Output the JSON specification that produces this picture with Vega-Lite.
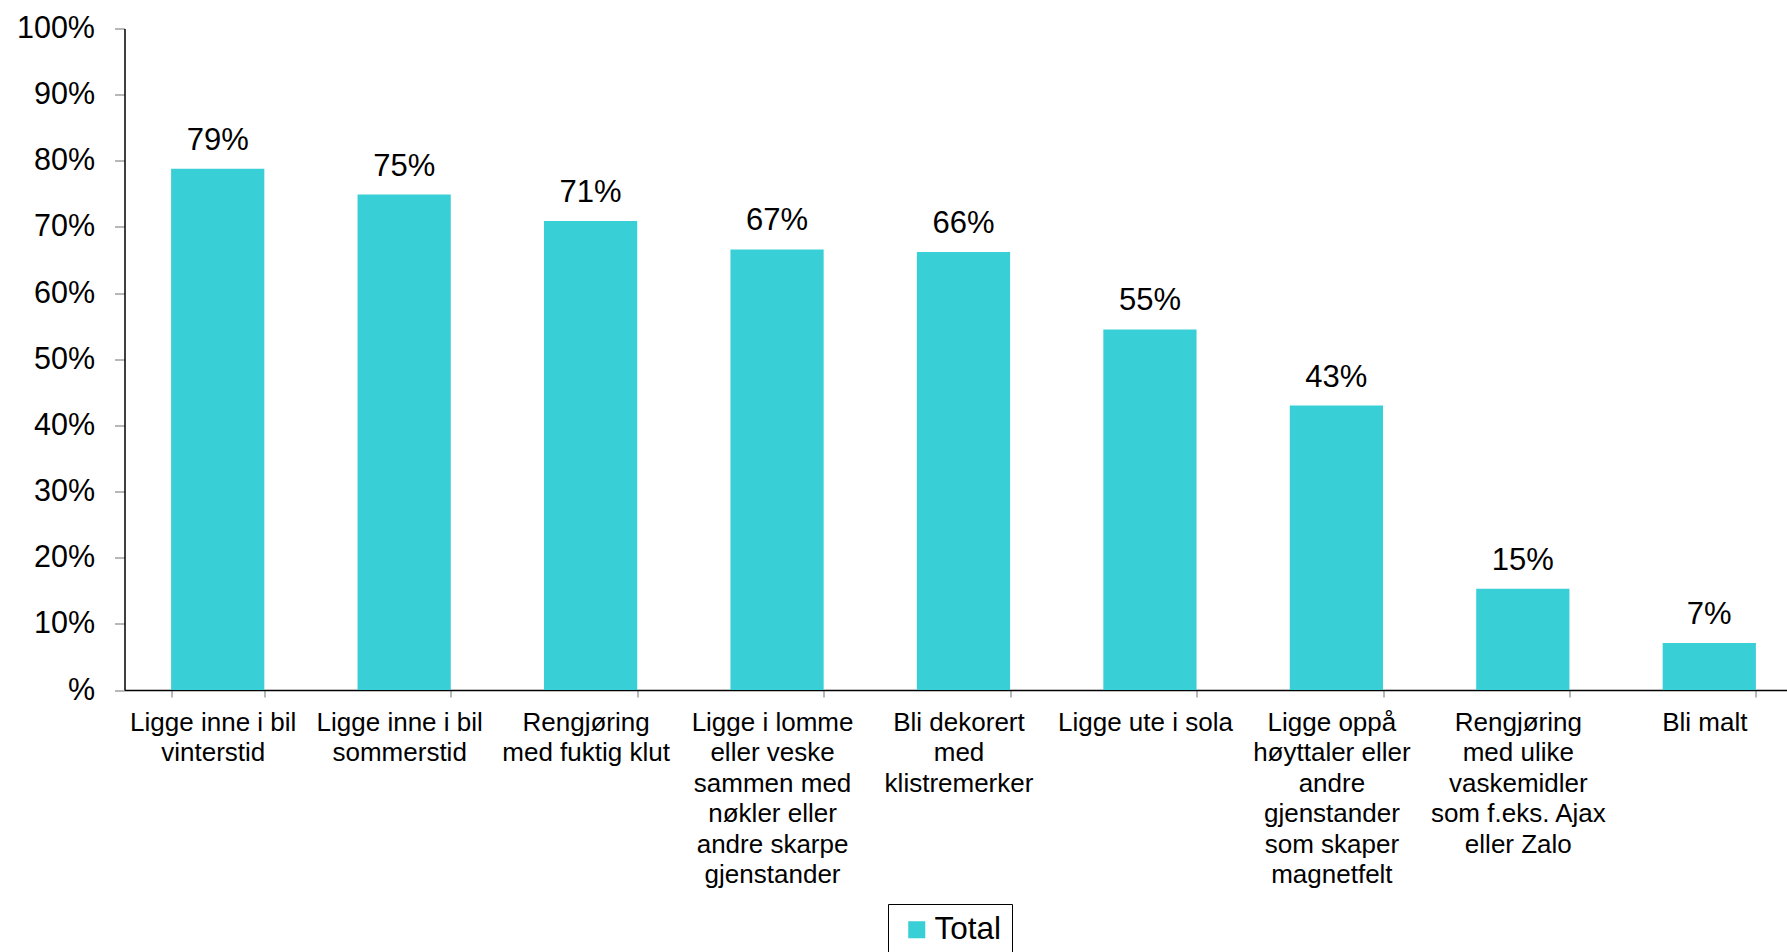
{
  "$schema": "https://vega.github.io/schema/vega-lite/v6.json",
  "autosize": {"type": "none"},
  "width": 1663,
  "height": 661.5,
  "padding": {"left": 124.5, "top": 28.5, "right": 0, "bottom": 262},
  "background": "white",
  "config": {
    "view": {"stroke": null},
    "font": "Liberation Sans"
  },
  "data": {
    "values": [
      {"item": "Ligge inne i bil|vinterstid", "share": 0.788, "label": "79%", "series": "Total"},
      {"item": "Ligge inne i bil|sommerstid", "share": 0.749, "label": "75%", "series": "Total"},
      {"item": "Rengjøring|med fuktig klut", "share": 0.709, "label": "71%", "series": "Total"},
      {"item": "Ligge i lomme|eller veske|sammen med|nøkler eller|andre skarpe|gjenstander", "share": 0.666, "label": "67%", "series": "Total"},
      {"item": "Bli dekorert|med|klistremerker", "share": 0.662, "label": "66%", "series": "Total"},
      {"item": "Ligge ute i sola", "share": 0.545, "label": "55%", "series": "Total"},
      {"item": "Ligge oppå|høyttaler eller|andre|gjenstander|som skaper|magnetfelt", "share": 0.430, "label": "43%", "series": "Total"},
      {"item": "Rengjøring|med ulike|vaskemidler|som f.eks. Ajax|eller Zalo", "share": 0.153, "label": "15%", "series": "Total"},
      {"item": "Bli malt", "share": 0.071, "label": "7%", "series": "Total"}
    ]
  },
  "encoding": {
    "x": {
      "field": "item",
      "type": "nominal",
      "sort": null,
      "scale": {"range": [0, 1678], "paddingInner": 0.5, "paddingOuter": 0.25},
      "axis": {
        "title": null,
        "labelAngle": 0,
        "labelExpr": "split(datum.label, '|')",
        "labelFontSize": 26,
        "labelLineHeight": 30.5,
        "labelColor": "#000000",
        "labelPadding": 12,
        "labelOffset": -5,
        "labelBaseline": "top",
        "labelLimit": 0,
        "domainColor": "#000000",
        "domainWidth": 1.5,
        "tickColor": "#a0a0a0",
        "tickSize": 7,
        "tickWidth": 1.5,
        "tickBand": "extent"
      }
    },
    "y": {
      "field": "share",
      "type": "quantitative",
      "scale": {"domain": [0, 1]},
      "axis": {
        "title": null,
        "values": [0, 0.1, 0.2, 0.3, 0.4, 0.5, 0.6, 0.7, 0.8, 0.9, 1],
        "labelExpr": "datum.value == 0 ? '%' : format(datum.value, '.0%')",
        "labelFontSize": 30.5,
        "labelColor": "#000000",
        "labelPadding": 20,
        "grid": false,
        "domainColor": "#000000",
        "domainWidth": 1.5,
        "tickColor": "#a0a0a0",
        "tickSize": 10,
        "tickWidth": 1.5
      }
    }
  },
  "layer": [
    {
      "mark": {"type": "bar"},
      "encoding": {
        "color": {
          "field": "series",
          "type": "nominal",
          "scale": {"range": ["#38CFD6"]},
          "legend": {
            "title": null,
            "orient": "none",
            "legendX": 763.5,
            "legendY": 875.5,
            "direction": "vertical",
            "strokeColor": "#000000",
            "fillColor": "#ffffff",
            "padding": 10,
            "symbolType": "square",
            "symbolSize": 290,
            "symbolStrokeWidth": 0,
            "symbolOffset": 3,
            "labelFontSize": 31.5,
            "labelColor": "#000000",
            "labelOffset": 2
          }
        }
      }
    },
    {
      "mark": {"type": "text", "baseline": "alphabetic", "dy": -19, "fontSize": 31, "color": "#000000"},
      "encoding": {"text": {"field": "label"}}
    }
  ]
}
